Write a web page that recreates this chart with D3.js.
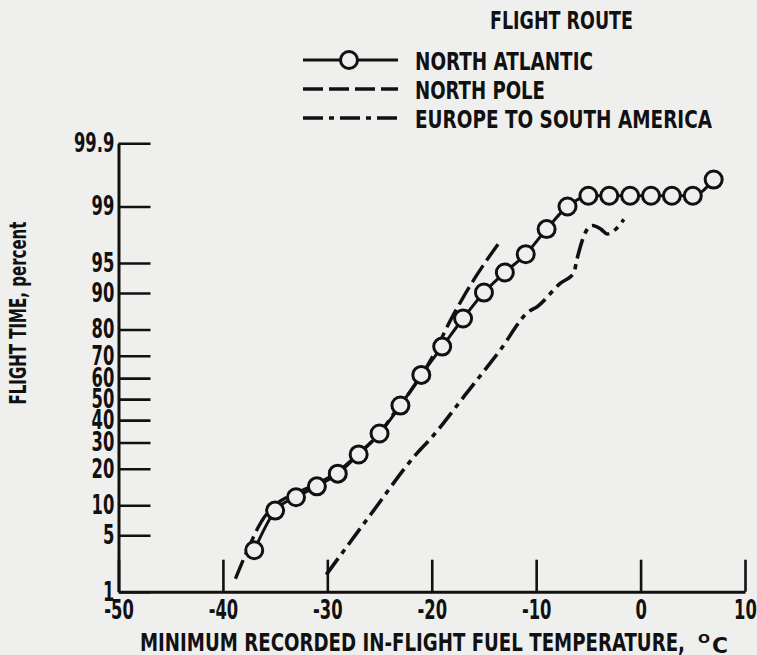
<!DOCTYPE html>
<html>
<head>
<meta charset="utf-8">
<script src="https://cdn.jsdelivr.net/npm/d3@7"></script>
<style>
    body { margin: 0; background: #efefed; }
    svg { display: block; }
    text { font-family: "Liberation Sans Narrow", "DejaVu Sans Condensed", "Arial Narrow", sans-serif; font-weight: bold; fill: #111; }
</style>
</head>
<body>
<svg id="chart" width="757" height="655"></svg>
<script>
"use strict"

// tick labels
const xTicks = [-50, -40, -30, -20, -10, 0, 10]
const yTicks = [1, 5, 10, 20, 30, 40, 50, 60, 70, 80, 90, 95, 99, 99.9]

// North Atlantic (circles), temperature and percent
const atlanticTemp = [-37, -35, -33, -31, -29, -27, -25, -23, -21, -19, -17, -15, -13, -11, -9, -7, -5, -3, -1, 1, 3, 5, 7]
const atlanticPct = [3.4, 8.9, 11.8, 14.6, 18.4, 25.2, 33.9, 46.9, 61.5, 73.7, 83.5, 90.1, 93.7, 96.0, 98.0, 99.0, 99.3, 99.3, 99.3, 99.3, 99.3, 99.3, 99.6]

// North Pole (dashed)
const poleTemp = [-38.8, -37.6, -36.3, -35, -33, -31, -29, -27, -25, -23.5, -22, -20, -18.2, -17, -15.8, -13.6]
const polePct = [1.5, 3.5, 7, 10, 12.8, 15.3, 19, 25.5, 34, 44, 54, 69, 83, 89, 93, 97]

// Europe to South America (dash-dot)
const europeTemp = [-30.1, -25.8, -21.4, -20.2, -16.8, -13.5, -10.7, -9.9, -7.7, -6.4, -6.1, -5.2, -4.6, -3.8, -3.2, -1.6]
const europePct = [1.7, 8.3, 25.7, 31.2, 52, 72, 85.5, 86.8, 91.9, 93.6, 95.4, 97.9, 98.2, 98.0, 97.7, 98.5]

const legendLabels = ["NORTH ATLANTIC", "NORTH POLE", "EUROPE TO SOUTH AMERICA"]

// inverse normal cdf (Acklam), used for the probability axis
function probit(p) {
    const a = [-39.69683028665376, 220.9460984245205, -275.9285104469687, 138.3577518672690, -30.66479806614716, 2.506628277459239]
    const b = [-54.47609879822406, 161.5858368580409, -155.6989798598866, 66.80131188771972, -13.28068155288572]
    const c = [-0.007784894002430293, -0.3223964580411365, -2.400758277161838, -2.549732539343734, 4.374664141464968, 2.938163982698783]
    const d = [0.007784695709041462, 0.3224671290700398, 2.445134137142996, 3.754408661907416]
    const tail = q => (((((c[0] * q + c[1]) * q + c[2]) * q + c[3]) * q + c[4]) * q + c[5]) /
        ((((d[0] * q + d[1]) * q + d[2]) * q + d[3]) * q + 1)
    if (p < 0.02425) return tail(Math.sqrt(-2 * Math.log(p)))
    if (p > 1 - 0.02425) return -tail(Math.sqrt(-2 * Math.log(1 - p)))
    const q = p - 0.5, r = q * q
    return (((((a[0] * r + a[1]) * r + a[2]) * r + a[3]) * r + a[4]) * r + a[5]) * q /
        (((((b[0] * r + b[1]) * r + b[2]) * r + b[3]) * r + b[4]) * r + 1)
}

const svg = d3.select("#chart")
const ink = "#111"
const paper = "#efefed"

const x = d3.scaleLinear().domain([-50, 10]).range([118.5, 745])
const yz = d3.scaleLinear().domain([probit(0.01), probit(0.999)]).range([591.7, 143.3])
const y = p => yz(probit(p / 100))

const xAxis = d3.axisBottom(x)
    .tickValues(xTicks)
    .tickFormat(d => String(d))
    .tickSizeInner(-32)
    .tickSizeOuter(0)
    .tickPadding(9)

const yAxis = d3.axisLeft(yz)
    .tickValues(yTicks.map(p => probit(p / 100)))
    .tickFormat((d, i) => String(yTicks[i]))
    .tickSizeInner(-32)
    .tickSizeOuter(0)
    .tickPadding(6)

// the scanned type is a narrow face, so squeeze the labels sideways
function styleAxis(g) {
    g.attr("font-family", null).attr("font-size", null)
    g.select(".domain").attr("stroke", ink).attr("stroke-width", 3)
    g.selectAll(".tick line").attr("stroke", ink).attr("stroke-width", 2.6)
    g.selectAll(".tick text")
        .attr("fill", ink)
        .attr("transform", "scale(0.7,1)")
        .style("font-size", "26px")
}

svg.append("g")
    .attr("id", "axis-x")
    .attr("transform", "translate(0," + yz.range()[0] + ")")
    .call(xAxis)
    .call(styleAxis)

svg.append("g")
    .attr("id", "axis-y")
    .attr("transform", "translate(" + x.range()[0] + ",0)")
    .call(yAxis)
    .call(styleAxis)

// axis titles
svg.append("text")
    .attr("x", 140)
    .attr("y", 651)
    .attr("textLength", 545)
    .attr("lengthAdjust", "spacingAndGlyphs")
    .style("font-size", "25px")
    .text("MINIMUM RECORDED IN-FLIGHT FUEL TEMPERATURE,")
svg.append("text")
    .attr("x", 698)
    .attr("y", 643)
    .attr("textLength", 12)
    .attr("lengthAdjust", "spacingAndGlyphs")
    .style("font-size", "13px")
    .text("O")
svg.append("text")
    .attr("x", 712)
    .attr("y", 653)
    .attr("textLength", 16)
    .attr("lengthAdjust", "spacingAndGlyphs")
    .style("font-size", "22px")
    .text("C")

svg.append("text")
    .attr("transform", "translate(26,313) rotate(-90)")
    .attr("text-anchor", "middle")
    .attr("textLength", 183)
    .attr("lengthAdjust", "spacingAndGlyphs")
    .style("font-size", "23px")
    .text("FLIGHT TIME, percent")

// series
const line = d3.line()
    .x(d => x(d[0]))
    .y(d => y(d[1]))
    .curve(d3.curveMonotoneX)

const atlantic = atlanticTemp.map((t, i) => [t, atlanticPct[i]])
const pole = poleTemp.map((t, i) => [t, polePct[i]])
const europe = europeTemp.map((t, i) => [t, europePct[i]])

svg.append("path")
    .attr("d", line(pole))
    .attr("fill", "none")
    .attr("stroke", ink)
    .attr("stroke-width", 3.4)
    .attr("stroke-dasharray", "20,6")

svg.append("path")
    .attr("d", line(europe))
    .attr("fill", "none")
    .attr("stroke", ink)
    .attr("stroke-width", 3.6)
    .attr("stroke-dasharray", "20,6,5,6")

svg.append("path")
    .attr("d", line(atlantic))
    .attr("fill", "none")
    .attr("stroke", ink)
    .attr("stroke-width", 3)

svg.selectAll(".circ")
    .data(atlantic)
    .enter()
    .append("circle")
    .attr("class", "circ")
    .attr("cx", d => x(d[0]))
    .attr("cy", d => y(d[1]))
    .attr("r", 8.5)
    .attr("fill", paper)
    .attr("stroke", ink)
    .attr("stroke-width", 3)

// legend
svg.append("text")
    .attr("x", 490)
    .attr("y", 29)
    .attr("textLength", 143)
    .attr("lengthAdjust", "spacingAndGlyphs")
    .style("font-size", "24px")
    .text("FLIGHT ROUTE")

const legendY = [60, 89, 118]
const legendWidth = [178, 130, 297]
const legendDash = [null, "20,6", "20,6,5,6"]
const legend = svg.selectAll(".legend")
    .data(legendLabels)
    .enter()
    .append("g")
    .attr("class", "legend")
    .attr("transform", (d, i) => "translate(0," + legendY[i] + ")")

legend.append("line")
    .attr("x1", 303)
    .attr("x2", 398)
    .attr("stroke", ink)
    .attr("stroke-width", (d, i) => i === 0 ? 3 : 3.4)
    .attr("stroke-dasharray", (d, i) => legendDash[i])

legend.filter((d, i) => i === 0)
    .append("circle")
    .attr("cx", 349)
    .attr("r", 8.5)
    .attr("fill", paper)
    .attr("stroke", ink)
    .attr("stroke-width", 3)

legend.append("text")
    .attr("x", 415)
    .attr("y", 10)
    .attr("textLength", (d, i) => legendWidth[i])
    .attr("lengthAdjust", "spacingAndGlyphs")
    .style("font-size", "25px")
    .text(d => d)
</script>
</body>
</html>
